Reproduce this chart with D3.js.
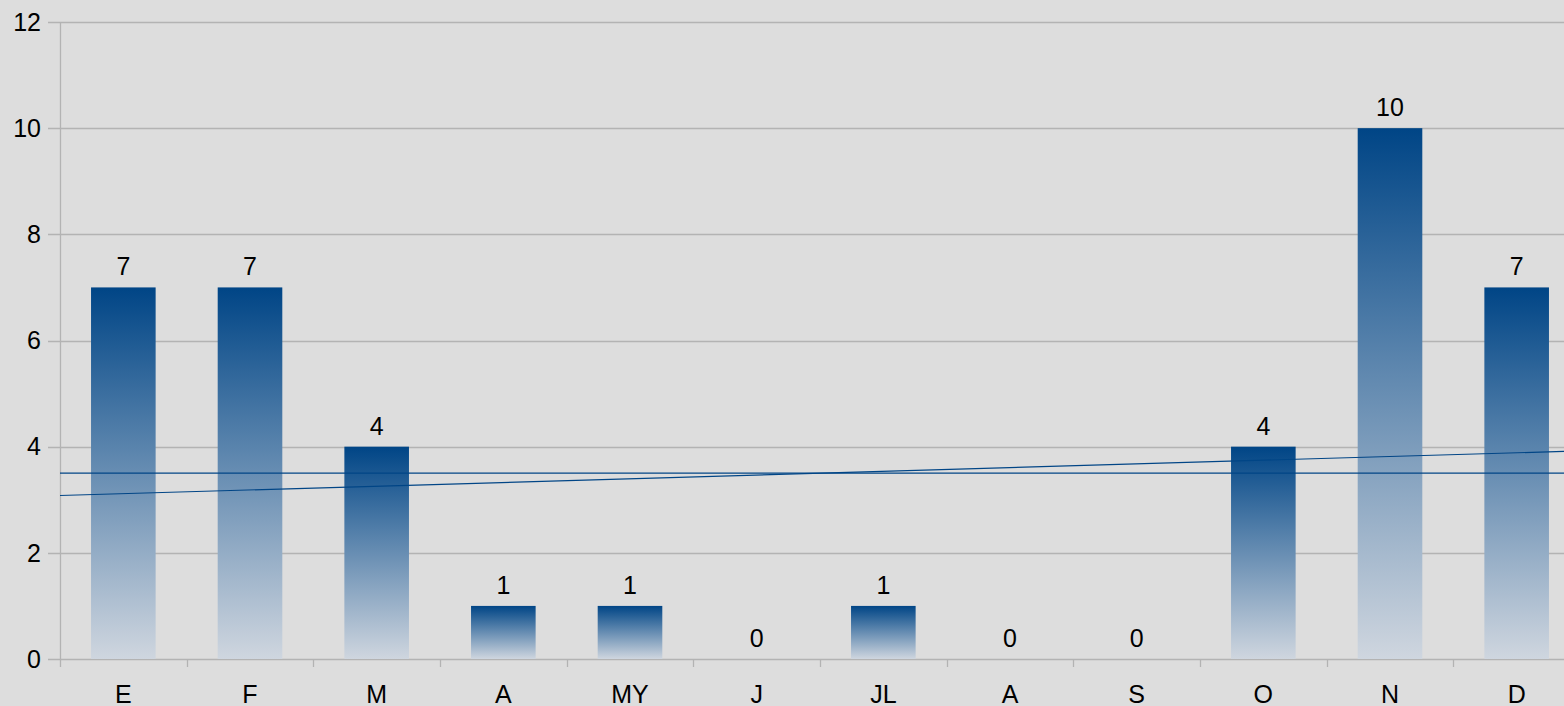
<!DOCTYPE html>
<html>
<head>
<meta charset="utf-8">
<script src="https://cdn.jsdelivr.net/npm/d3@7"></script>
<style>
  html, body { margin: 0; padding: 0; background: #dddddd; overflow: hidden; }
  svg { display: block; }
  text { font-family: "Liberation Sans", Arial, sans-serif; fill: #000; }
</style>
</head>
<body>
<div id="chart"></div>
<script>
// month labels and counts
var months = ["E", "F", "M", "A", "MY", "J", "JL", "A", "S", "O", "N", "D"];
var counts = [7, 7, 4, 1, 1, 0, 1, 0, 0, 4, 10, 7];
var yTicks = [0, 2, 4, 6, 8, 10, 12];

var W = 1564, H = 706;
// plot area runs a little past the right edge of the window, like the original
var margin = {top: 22, right: -16, bottom: 47, left: 60};
var iw = W - margin.left - margin.right,
    ih = H - margin.top - margin.bottom;

var svg = d3.select("#chart").append("svg")
    .attr("width", W)
    .attr("height", H);

var defs = svg.append("defs");
var grad = defs.append("linearGradient")
    .attr("id", "barGrad")
    .attr("x1", 0).attr("y1", 0).attr("x2", 0).attr("y2", 1);
grad.append("stop").attr("offset", "0%").attr("stop-color", "#004586");
grad.append("stop").attr("offset", "100%").attr("stop-color", "#cfd6df");

var g = svg.append("g")
    .attr("transform", "translate(" + margin.left + "," + margin.top + ")");

// x uses indexes since "A" appears twice
var x = d3.scaleBand()
    .domain(d3.range(months.length))
    .range([0, iw])
    .paddingInner(0.49)
    .paddingOuter(0.245);

var xb = d3.scaleBand()
    .domain(d3.range(months.length))
    .range([0, iw]);

var y = d3.scaleLinear().domain([0, 12]).range([ih, 0]);

//grid lines
g.selectAll(".grid")
  .data(yTicks)
  .enter()
  .append("line")
  .attr("x1", -12)
  .attr("x2", iw)
  .attr("y1", function(d){ return Math.round(y(d)) + 0.5; })
  .attr("y2", function(d){ return Math.round(y(d)) + 0.5; })
  .style("stroke", "#b3b3b3")
  .style("stroke-width", "1.3px");

// y axis line
g.append("line")
  .attr("x1", 0.5).attr("x2", 0.5)
  .attr("y1", 0).attr("y2", ih + 8)
  .style("stroke", "#b3b3b3")
  .style("stroke-width", "1.3px");

// x axis ticks between categories
g.selectAll(".xtick")
  .data(d3.range(1, months.length))
  .enter()
  .append("line")
  .attr("x1", function(d){ return Math.round(xb(d)) + 0.5; })
  .attr("x2", function(d){ return Math.round(xb(d)) + 0.5; })
  .attr("y1", ih)
  .attr("y2", ih + 8)
  .style("stroke", "#b3b3b3")
  .style("stroke-width", "1.3px");

// y labels
g.selectAll(".ylab")
  .data(yTicks)
  .enter()
  .append("text")
  .attr("x", -19)
  .attr("y", function(d){ return y(d); })
  .attr("dy", "0.35em")
  .attr("text-anchor", "end")
  .style("font-size", "25px")
  .text(function(d){ return d; });

// bars
g.selectAll(".bar")
  .data(counts)
  .enter()
  .append("rect")
  .attr("x", function(d, i){ return x(i); })
  .attr("width", x.bandwidth())
  .attr("y", function(d){ return y(d); })
  .attr("height", function(d){ return ih - y(d); })
  .style("fill", "url(#barGrad)");

// value labels
g.selectAll(".val")
  .data(counts)
  .enter()
  .append("text")
  .attr("x", function(d, i){ return x(i) + x.bandwidth() / 2; })
  .attr("y", function(d){ return y(d) - 12; })
  .attr("text-anchor", "middle")
  .style("font-size", "25px")
  .text(function(d){ return d; });

// x labels
g.selectAll(".xlab")
  .data(months)
  .enter()
  .append("text")
  .attr("x", function(d, i){ return xb(i) + xb.bandwidth() / 2; })
  .attr("y", ih + 44)
  .attr("text-anchor", "middle")
  .style("font-size", "25px")
  .text(function(d){ return d; });

// mean line
var mean = d3.mean(counts);
g.append("line")
  .attr("x1", 0).attr("x2", iw)
  .attr("y1", y(mean)).attr("y2", y(mean))
  .style("stroke", "#004586")
  .style("stroke-width", "1.2px");

// linear trend line (least squares over positions 1..n)
var xs = counts.map(function(d, i){ return i + 1; });
var mx = d3.mean(xs);
var sxy = d3.sum(counts, function(d, i){ return (xs[i] - mx) * (d - mean); });
var sxx = d3.sum(xs, function(v){ return (v - mx) * (v - mx); });
var slope = sxy / sxx;
function trend(v){ return mean + slope * (v - mx); }
g.append("line")
  .attr("x1", 0).attr("x2", iw)
  .attr("y1", y(trend(0.5)))
  .attr("y2", y(trend(months.length + 0.5)))
  .style("stroke", "#004586")
  .style("stroke-width", "1.2px");
</script>
</body>
</html>
